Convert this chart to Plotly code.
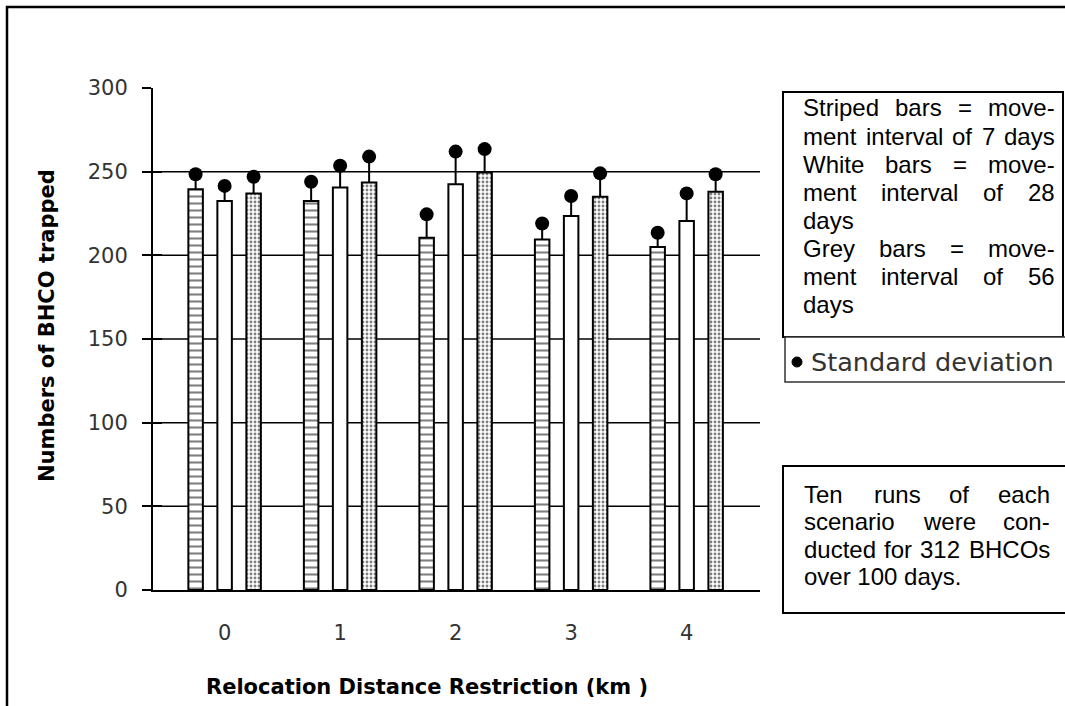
import plotly.graph_objects as go

# ---- data ----
categories = ["0", "1", "2", "3", "4"]
striped_vals = [239.5, 232.5, 210.5, 209.5, 205.0]
white_vals = [232.5, 240.5, 242.5, 223.5, 220.5]
grey_vals = [237.0, 243.5, 249.5, 235.0, 238.0]
striped_sd = [9.0, 11.5, 14.0, 9.5, 8.5]
white_sd = [9.0, 13.0, 19.5, 12.0, 16.5]
grey_sd = [10.0, 15.5, 14.0, 14.0, 10.5]
y_ticks = [0, 50, 100, 150, 200, 250, 300]
grid_vals = [50, 100, 150, 200, 250]

box1_lines = ["Striped bars = move-", "ment interval of 7 days", "White bars = move-",
              "ment interval of 28", "days", "Grey bars = move-",
              "ment interval of 56", "days"]
box1_justify = [True, True, True, True, False, True, True, False]
box3_lines = ["Ten runs of each", "scenario were con-", "ducted for 312 BHCOs", "over 100 days."]
box3_justify = [True, True, True, False]

W, H = 1065, 706
ML, MR, MT, MB = 153, 305, 88, 116
PW = W - ML - MR
PH = H - MT - MB


def xp(px):
    return (px - ML) / PW


def yp(py):
    return (H - MB - py) / PH


# Arial / Liberation Sans advance widths (per 1000 em)
AW = {' ': 278, '=': 584, '-': 333, '.': 278, '(': 333, ')': 333}
for ch in '0123456789':
    AW[ch] = 556
AW.update({'a': 556, 'b': 556, 'c': 500, 'd': 556, 'e': 556, 'f': 278, 'g': 556, 'h': 556,
           'i': 222, 'j': 222, 'k': 500, 'l': 222, 'm': 833, 'n': 556, 'o': 556, 'p': 556,
           'q': 556, 'r': 333, 's': 500, 't': 278, 'u': 556, 'v': 500, 'w': 722, 'x': 500,
           'y': 500, 'z': 500, 'S': 667, 'W': 944, 'G': 778, 'T': 611, 'B': 667, 'H': 722,
           'C': 722, 'O': 778})


def tw(s, size):
    return sum(AW.get(c, 556) for c in s) / 1000.0 * size


BOX_FONT = dict(family="Liberation Sans, Arial, sans-serif", size=24, color="black")

fig = go.Figure()

err = lambda sd: dict(type="data", symmetric=False, array=sd, arrayminus=[0] * len(sd),
                      thickness=2, width=0, color="black")

fig.add_trace(go.Bar(x=categories, y=striped_vals, name="7 days", offsetgroup="a",
                     marker=dict(color="white", line=dict(color="black", width=2),
                                 pattern=dict(shape="-", size=7, solidity=0.3,
                                              fgcolor="black", bgcolor="white")),
                     error_y=err(striped_sd)))
fig.add_trace(go.Bar(x=categories, y=white_vals, name="28 days", offsetgroup="b",
                     marker=dict(color="white", line=dict(color="black", width=2)),
                     error_y=err(white_sd)))
fig.add_trace(go.Bar(x=categories, y=grey_vals, name="56 days", offsetgroup="c",
                     marker=dict(color="white", line=dict(color="black", width=2),
                                 pattern=dict(shape=".", size=4, solidity=0.4,
                                              fgcolor="black", bgcolor="white")),
                     error_y=err(grey_sd)))

for vals, sds, g in [(striped_vals, striped_sd, "a"), (white_vals, white_sd, "b"),
                     (grey_vals, grey_sd, "c")]:
    fig.add_trace(go.Scatter(x=categories, y=[v + s for v, s in zip(vals, sds)],
                             mode="markers", offsetgroup=g,
                             marker=dict(symbol="circle", size=14, color="black"),
                             showlegend=False))

# overlay axis for inside halves of y ticks
fig.add_trace(go.Scatter(x=categories, y=[None] * 5, yaxis="y2", showlegend=False))

shapes = []
for v in grid_vals:
    shapes.append(dict(type="line", xref="paper", yref="y", x0=0, x1=1, y0=v, y1=v,
                       line=dict(color="black", width=1.5), layer="below"))

# outer frame
shapes.append(dict(type="rect", xref="paper", yref="paper", x0=xp(7), x1=xp(1080),
                   y0=yp(720), y1=yp(7), line=dict(color="black", width=2.5)))
# legend boxes
shapes.append(dict(type="rect", xref="paper", yref="paper", x0=xp(783), x1=xp(1063),
                   y0=yp(337), y1=yp(92), line=dict(color="black", width=2),
                   fillcolor="white"))
shapes.append(dict(type="rect", xref="paper", yref="paper", x0=xp(785), x1=xp(1080),
                   y0=yp(382), y1=yp(337), line=dict(color="#333", width=1.5),
                   fillcolor="white"))
shapes.append(dict(type="rect", xref="paper", yref="paper", x0=xp(783), x1=xp(1080),
                   y0=yp(613), y1=yp(466), line=dict(color="black", width=2),
                   fillcolor="white"))
# SD legend dot
shapes.append(dict(type="circle", xref="paper", yref="paper", x0=xp(792), x1=xp(802),
                   y0=yp(367), y1=yp(357), line=dict(color="black", width=1),
                   fillcolor="black"))

annotations = []


def add_justified(lines, justify, left, right, y0, dy):
    for i, (line, j) in enumerate(zip(lines, justify)):
        y = y0 + i * dy
        words = line.split(" ")
        if j and len(words) > 1:
            widths = [tw(w, BOX_FONT["size"]) for w in words]
            gap = (right - left - sum(widths)) / (len(words) - 1)
            x = left
            for w, wd in zip(words, widths):
                annotations.append(dict(text=w, x=xp(x), y=yp(y), xref="paper", yref="paper",
                                        xanchor="left", yanchor="middle", showarrow=False,
                                        font=BOX_FONT, borderpad=0))
                x += wd + gap
        else:
            annotations.append(dict(text=line, x=xp(left), y=yp(y), xref="paper", yref="paper",
                                    xanchor="left", yanchor="middle", showarrow=False,
                                    font=BOX_FONT, borderpad=0))


add_justified(box1_lines, box1_justify, 802, 1054, 108, 28)
add_justified(box3_lines, box3_justify, 803, 1049, 494, 27.5)

annotations.append(dict(text="Standard deviation", x=xp(810), y=yp(362), xref="paper",
                        yref="paper", xanchor="left", yanchor="middle", showarrow=False,
                        font=dict(family="DejaVu Sans", size=25.5, color="#333"), borderpad=0))
annotations.append(dict(text="Numbers of BHCO trapped", x=xp(47), y=yp(325), xref="paper",
                        yref="paper", xanchor="center", yanchor="middle", showarrow=False,
                        textangle=-90,
                        font=dict(family="DejaVu Sans", size=21, color="black", weight="bold")))
annotations.append(dict(text="Relocation Distance Restriction (km )", x=xp(427), y=yp(687),
                        xref="paper", yref="paper", xanchor="center", yanchor="middle",
                        showarrow=False,
                        font=dict(family="DejaVu Sans", size=21, color="black", weight="bold")))

tickfont = dict(family="DejaVu Sans", size=21, color="#333")

fig.update_layout(
    width=W, height=H,
    margin=dict(l=ML, r=MR, t=MT, b=MB, pad=0),
    paper_bgcolor="white", plot_bgcolor="white",
    barmode="group", bargap=0.247, bargroupgap=0.5,
    scattermode="group", scattergap=0.247,
    showlegend=False,
    shapes=shapes, annotations=annotations,
    xaxis=dict(type="category", range=[-0.62, 4.635], showgrid=False, showline=True,
               linecolor="black", linewidth=2, ticks="", tickfont=tickfont,
               ticklabelstandoff=23, zeroline=False),
    yaxis=dict(range=[0, 300], tickvals=y_ticks, ticktext=[str(v) for v in y_ticks],
               showgrid=False, showline=True, linecolor="black", linewidth=2,
               ticks="outside", ticklen=9, tickwidth=2, tickcolor="black",
               tickfont=tickfont, ticklabelstandoff=10, zeroline=False),
    yaxis2=dict(range=[0, 300], overlaying="y", side="left", tickvals=y_ticks,
                showticklabels=False, showgrid=False, showline=False,
                ticks="inside", ticklen=9, tickwidth=2, tickcolor="black", zeroline=False),
)

fig.write_html("out.html", config={"displayModeBar": False},
               post_script="document.body.style.margin='0';"
                           "document.body.style.overflow='hidden';")
